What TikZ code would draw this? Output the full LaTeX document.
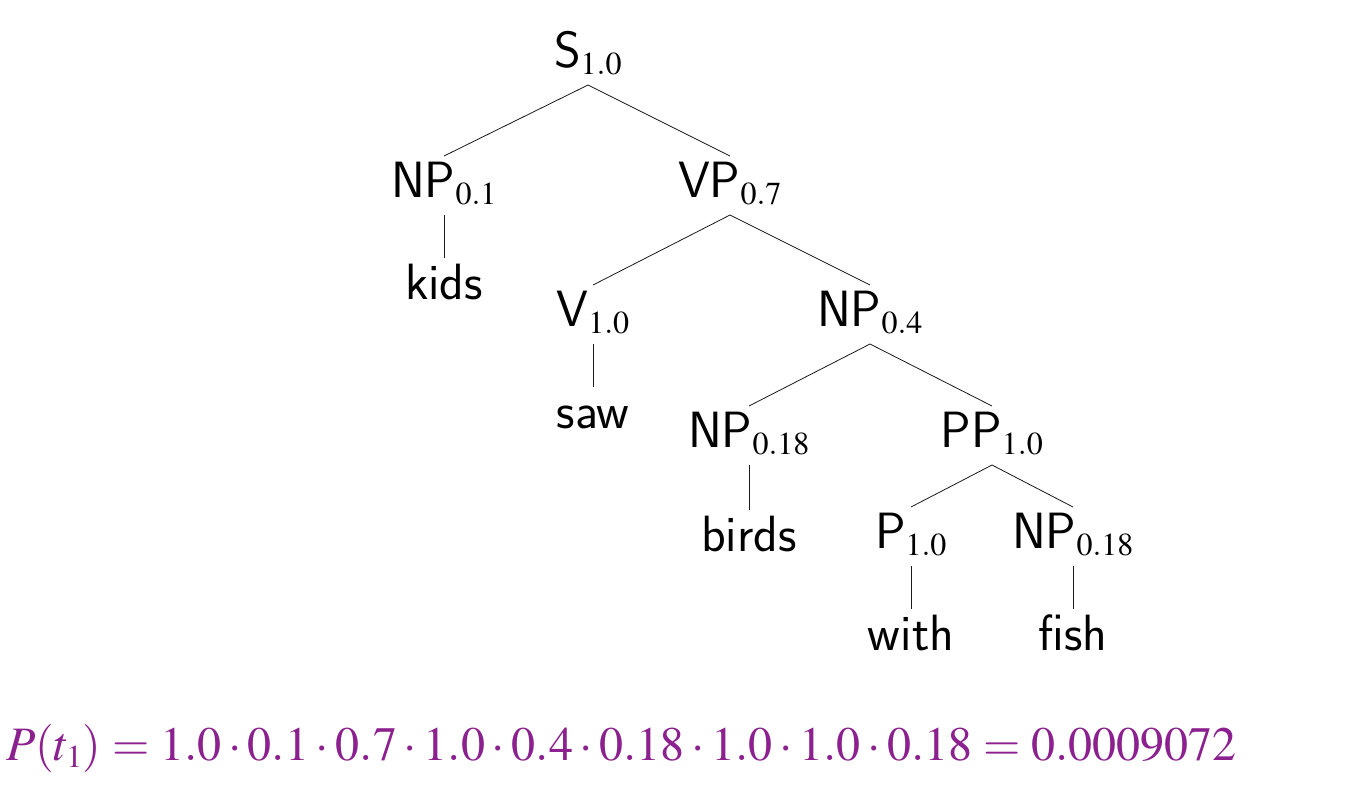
\documentclass[tikz,border=0pt]{standalone}
\usepackage{mathptmx}
\DeclareMathSizes{51}{51}{32}{24}
\DeclareMathSizes{48}{48}{32}{24}
\definecolor{formulapurple}{RGB}{139,32,142}
\tikzset{
  lab/.style={anchor=base, inner sep=0pt, font=\fontsize{51}{60}\selectfont\sffamily},
  branch/.style={line width=0.8pt, black!90},
}
\begin{document}
\begin{tikzpicture}[x=1pt,y=-1pt]
\useasboundingbox (0,0) rectangle (1348,788);
% labels
\node[lab] (s)    at (588,67)  {S$_{1.0}$};
\node[lab] (np1)  at (444,197) {NP$_{0.1}$};
\node[lab] (vp)   at (730,197) {VP$_{0.7}$};
\node[lab] (v)    at (593,326) {V$_{1.0}$};
\node[lab] (np4)  at (870,326) {NP$_{0.4}$};
\node[lab] (npa)  at (749,447) {NP$_{0.18}$};
\node[lab] (pp)   at (992,447) {PP$_{1.0}$};
\node[lab] (p)    at (911,548) {P$_{1.0}$};
\node[lab] (npb)  at (1073,548) {NP$_{0.18}$};
% words
\node[lab] (kids)  at (444,299)  {kids};
\node[lab] (saw)   at (593,428)  {saw};
\node[lab] (birds) at (749,551)  {birds};
\node[lab] (with)  at (911,650)  {with};
\node[lab] (fish)  at (1073,650) {fish};
% branches
\foreach \pa/\ch in {s/np1, s/vp, np1/kids, vp/v, vp/np4, v/saw, np4/npa, np4/pp,
                     npa/birds, pp/p, pp/npb, p/with, npb/fish}
  \draw[branch] ([yshift=-18pt]\pa.base) -- ([yshift=41pt]\ch.base);
% formula
\node[anchor=base west, inner sep=0pt, text=formulapurple,
      font=\fontsize{48}{58}\selectfont] (formula) at (6,760)
  {$P(t_1) = 1.0\cdot 0.1\cdot 0.7\cdot 1.0\cdot 0.4\cdot 0.18\cdot 1.0\cdot 1.0\cdot 0.18 = 0.0009072$};
\end{tikzpicture}
\end{document}
